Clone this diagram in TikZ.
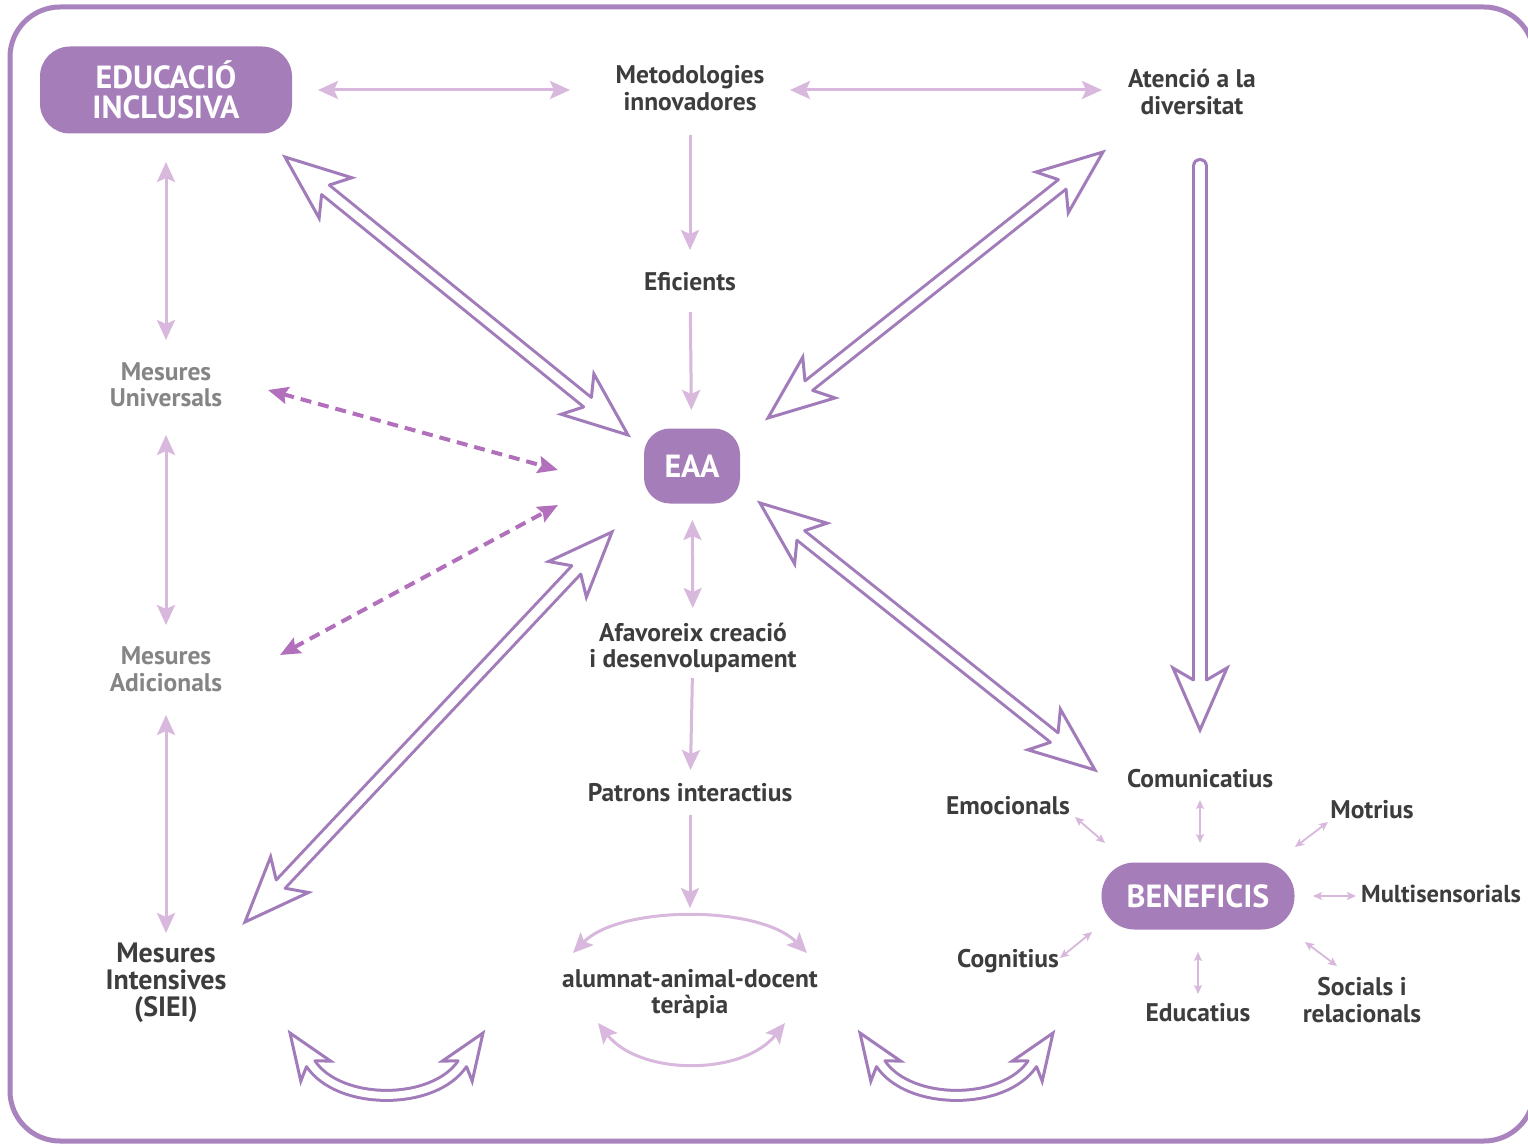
\documentclass[tikz,border=0pt]{standalone}
\usepackage{fontspec}
\setmainfont{PT Sans}
\usetikzlibrary{calc,arrows.meta}

\definecolor{boxpurple}{HTML}{A57DB8}
\definecolor{framepurple}{HTML}{A883BD}
\definecolor{lilac}{HTML}{D8B8DC}
\definecolor{dashpurple}{HTML}{B26FBB}
\definecolor{outlinepurple}{HTML}{A27CBA}
\definecolor{textdark}{HTML}{3D3D3D}
\definecolor{textgray}{HTML}{858585}

% open barbed arrow head: tip #1, axis towards #2,
% head length #3, barb half width #4, join distance #5, shaft half width #6
\newcommand\hollowhead[6]{%
  \path[fill=white] ($(#1)!#5!(#2)!#6!90:(#2)$) -- ($(#1)!#3!(#2)!#4!90:(#2)$) -- (#1)
     -- ($(#1)!#3!(#2)!#4!-90:(#2)$) -- ($(#1)!#5!(#2)!#6!-90:(#2)$) -- cycle;
  \draw[hollowline] ($(#1)!#5!(#2)!#6!90:(#2)$) -- ($(#1)!#3!(#2)!#4!90:(#2)$) -- (#1)
     -- ($(#1)!#3!(#2)!#4!-90:(#2)$) -- ($(#1)!#5!(#2)!#6!-90:(#2)$);
}
% straight hollow double-headed arrow between two named points
\newcommand\hollowlink[2]{%
  \draw[hollowshaft] ($(#1)!52pt!(#2)$) -- ($(#2)!52pt!(#1)$);
  \hollowhead{#1}{#2}{65pt}{26pt}{52pt}{6pt}
  \hollowhead{#2}{#1}{65pt}{26pt}{52pt}{6pt}
}

\begin{document}
\begin{tikzpicture}[x=1pt,y=-1pt,
  txt/.style={font=\bfseries\fontsize{25.5}{26.5}\selectfont, text=textdark, align=center, inner sep=0pt},
  gtxt/.style={txt, text=textgray},
  pill/.style={fill=boxpurple, text=white, font=\bfseries\fontsize{32}{30}\selectfont, align=center, inner sep=0pt},
  tipL/.tip={Stealth[length=20pt,width=18pt,inset=4pt]},
  tipS/.tip={Stealth[length=9pt,width=8pt,inset=2pt]},
  tipD/.tip={Stealth[length=20pt,width=17pt,inset=3pt]},
  lone/.style={draw=lilac, line width=3pt, -tipL},
  lboth/.style={draw=lilac, line width=3pt, tipL-tipL},
  tinylink/.style={draw=lilac, line width=1.8pt, tipS-tipS},
  dashlink/.style={draw=dashpurple, line width=4pt, dash pattern=on 11pt off 7pt, tipD-tipD},
  hollowshaft/.style={draw=outlinepurple, line width=3pt, double=white, double distance=9pt},
  hollowline/.style={draw=outlinepurple, line width=3pt, line join=miter, line cap=round},
]
\useasboundingbox (0,0) rectangle (1528,1147);
\clip (0,0) rectangle (1528,1147);
\fill[white] (0,0) rectangle (1528,1147);

% outer frame
\draw[framepurple, line width=5pt, rounded corners=50pt] (10,7) rectangle (1534,1141);

% main boxes
\node[pill, minimum width=252pt, minimum height=87pt, rounded corners=30pt] (edu) at (166,90) {EDUCACIÓ\\INCLUSIVA};
\node[pill, minimum width=96pt, minimum height=75pt, rounded corners=26pt] (eaa) at (692,466) {EAA};
\node[pill, minimum width=193pt, minimum height=67pt, rounded corners=33pt] (benef) at (1198,896) {BENEFICIS};

% central column
\node[txt] (metod) at (690,88) {Metodologies\\innovadores};
\node[txt] (aten) at (1192,92) {Atenció a la\\diversitat};
\node[txt] (efic) at (690,282) {Eficients};
\node[txt] (afav) at (693,648) {Afavoreix creació\\i desenvolupament};
\node[txt] (patr) at (690,793) {Patrons interactius};
\node[txt] (alum) at (690,994) {alumnat-animal-docent\\teràpia};

% left column
\node[gtxt] (univ) at (166,385) {Mesures\\Universals};
\node[gtxt] (adic) at (166,669) {Mesures\\Adicionals};
\node[txt, font=\bfseries\fontsize{28}{27}\selectfont] (inten) at (166,983) {Mesures\\Intensives\\(SIEI)};

% benefits
\node[txt] (comu) at (1200,779) {Comunicatius};
\node[txt] (emoc) at (1008,806) {Emocionals};
\node[txt] (motr) at (1372,810) {Motrius};
\node[txt, font=\bfseries\fontsize{24.5}{26}\selectfont] (multi) at (1441,894) {Multisensorials};
\node[txt] (cogn) at (1008,961) {Cognitius};
\node[txt] (educ) at (1198,1013) {Educatius};
\node[txt] (soci) at (1362,1000) {Socials i\\relacionals};

% light connectors
\draw[lboth, shorten <=152pt, shorten >=120pt] (edu.center) -- (metod.center |- edu.center);
\draw[lboth, shorten <=100pt, shorten >=90pt] (metod.center |- edu.center) -- (aten.center |- edu.center);
\draw[lone, shorten <=47pt, shorten >=32pt] (metod.center) -- (efic.center);
\draw[lone, shorten <=30pt, shorten >=56pt] (efic.center) -- (eaa.center);
\draw[lboth, shorten <=54pt, shorten >=40pt] (eaa.center) -- (afav.center);
\draw[lone, shorten <=30pt, shorten >=23pt] (afav.center) -- (patr.center);
\draw[lone, shorten <=22pt, shorten >=86pt] (patr.center) -- (alum.center);
\draw[lboth, shorten <=72pt, shorten >=45pt] (edu.center) -- (univ.center);
\draw[lboth, shorten <=50pt, shorten >=44pt] (univ.center) -- (adic.center);
\draw[lboth, shorten <=46pt, shorten >=50pt] (adic.center) -- (inten.center);

% arcs around the therapy triad
\draw[lboth] ($(alum)+(-117,-41)$) .. controls ($(alum)+(-70,-89)$) and ($(alum)+(70,-89)$) .. ($(alum)+(117,-41)$);
\draw[lboth] ($(alum)+(-92,29)$) .. controls ($(alum)+(-50,82)$) and ($(alum)+(53,82)$) .. ($(alum)+(95,29)$);

% dashed links
\draw[dashlink] ($(univ)+(102,5)$) -- ($(eaa)+(-134,4)$);
\draw[dashlink] ($(adic)+(114,-14)$) -- ($(eaa)+(-134,39)$);

% small links around BENEFICIS
\draw[tinylink] ($(emoc)+(67,11)$) -- ($(benef)+(-93,-53)$);
\draw[tinylink] ($(comu)+(0,21)$) -- ($(benef)+(2,-53)$);
\draw[tinylink] ($(motr)+(-44,12)$) -- ($(benef)+(97,-49)$);
\draw[tinylink] ($(multi)+(-85,2)$) -- ($(benef)+(115,0)$);
\draw[tinylink] ($(cogn)+(52,-3)$) -- ($(benef)+(-106,36)$);
\draw[tinylink] ($(educ)+(0,-19)$) -- ($(benef)+(0,56)$);
\draw[tinylink] ($(soci)+(-25,-34)$) -- ($(benef)+(107,46)$);

% hollow double arrows
\coordinate (h1a) at ($(edu)+(119,67)$);
\coordinate (h1b) at ($(eaa)+(-64,-31)$);
\coordinate (h2a) at ($(aten)+(-89,60)$);
\coordinate (h2b) at ($(eaa)+(76,-48)$);
\coordinate (h3a) at ($(eaa)+(68,37)$);
\coordinate (h3b) at ($(benef)+(-103,-126)$);
\coordinate (h4a) at ($(inten)+(79,-61)$);
\coordinate (h4b) at ($(eaa)+(-80,66)$);
\hollowlink{h1a}{h1b}
\hollowlink{h2a}{h2b}
\hollowlink{h3a}{h3b}
\hollowlink{h4a}{h4b}

% vertical hollow arrow from diversity to benefits
\coordinate (vtop) at ($(aten)+(8,74)$);
\coordinate (vtip) at ($(benef)+(2,-166)$);
\draw[hollowshaft, double distance=10pt, line cap=round] (vtop) -- ($(vtip)!50pt!(vtop)$);
\hollowhead{vtip}{vtop}{62pt}{27pt}{50pt}{6.5pt}

% curved hollow arrows along the bottom
\coordinate (cla) at (290,1033);  \coordinate (cladir) at (346,1116);
\coordinate (clb) at (483,1033);  \coordinate (clbdir) at (427,1116);
\coordinate (cra) at (860,1033);  \coordinate (cradir) at (916,1116);
\coordinate (crb) at (1053,1033); \coordinate (crbdir) at (997,1116);
\draw[hollowshaft, double distance=7pt] ($(cla)!37pt!(cladir)$) .. controls +(28.5,42.3) and +(-28.5,42.3) .. ($(clb)!37pt!(clbdir)$);
\hollowhead{cla}{cladir}{46pt}{18pt}{37pt}{5pt}
\hollowhead{clb}{clbdir}{46pt}{18pt}{37pt}{5pt}
\draw[hollowshaft, double distance=7pt] ($(cra)!37pt!(cradir)$) .. controls +(28.5,42.3) and +(-28.5,42.3) .. ($(crb)!37pt!(crbdir)$);
\hollowhead{cra}{cradir}{46pt}{18pt}{37pt}{5pt}
\hollowhead{crb}{crbdir}{46pt}{18pt}{37pt}{5pt}
\end{tikzpicture}
\end{document}
